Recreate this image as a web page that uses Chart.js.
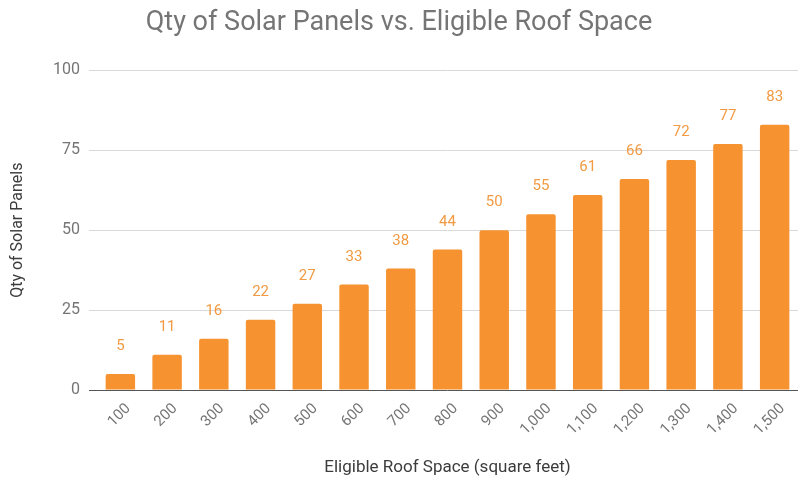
<!DOCTYPE html>
<html>
<head>
<meta charset="utf-8">
<script src="https://cdn.jsdelivr.net/npm/chart.js@4.4.0/dist/chart.umd.min.js"></script>
<style>
  html, body { margin: 0; padding: 0; background: #fff; }
  #wrap { width: 799px; height: 482px; }
</style>
</head>
<body>
<div id="wrap"><canvas id="solarChart"></canvas></div>
<script>
// Chart data
const roofSpace = ['100', '200', '300', '400', '500', '600', '700', '800', '900',
    '1,000', '1,100', '1,200', '1,300', '1,400', '1,500'];
const panelQty = [5, 11, 16, 22, 27, 33, 38, 44, 50, 55, 61, 66, 72, 77, 83];
const yTicks = [0, 25, 50, 75, 100];

const ORANGE = '#f6922f';
const GREY = '#757575';

// Draws value labels above each bar
const barLabels = {
    id: 'barLabels',
    afterDatasetsDraw(chart) {
        const ctx = chart.ctx;
        const meta = chart.getDatasetMeta(0);
        ctx.save();
        ctx.font = '15px Roboto';
        ctx.fillStyle = '#f29a42';
        ctx.textAlign = 'center';
        ctx.textBaseline = 'bottom';
        meta.data.forEach((bar, i) => {
            ctx.fillText(String(panelQty[i]), bar.x, bar.y - 20);
        });
        ctx.restore();
    }
};

new Chart(document.getElementById('solarChart'), {
    type: 'bar',
    data: {
        labels: roofSpace,
        datasets: [{
            label: 'Qty of Solar Panels',
            data: panelQty,
            backgroundColor: ORANGE,
            borderRadius: 2,
            categoryPercentage: 1,
            barPercentage: 0.63
        }]
    },
    options: {
        responsive: true,
        maintainAspectRatio: false,
        animation: false,
        layout: { padding: { right: 1 } },
        plugins: {
            legend: { display: false },
            tooltip: { enabled: false },
            title: {
                display: true,
                text: 'Qty of Solar Panels vs. Eligible Roof Space',
                color: GREY,
                font: { family: 'Roboto', size: 27, weight: 'normal' },
                padding: { top: 7, bottom: 31 }
            }
        },
        scales: {
            x: {
                grid: { display: false },
                border: { display: false },
                ticks: {
                    color: GREY,
                    font: { family: 'Roboto', size: 15 },
                    minRotation: 45,
                    maxRotation: 45,
                    padding: 2,
                    labelOffset: 8
                },
                title: {
                    display: true,
                    text: 'Eligible Roof Space (square feet)',
                    color: '#3c3c3c',
                    font: { family: 'Roboto', size: 17 },
                    padding: { top: 0, bottom: 4 }
                },
                afterFit(scale) { scale.height = 92; }
            },
            y: {
                min: 0,
                max: 100,
                afterBuildTicks(scale) {
                    scale.ticks = yTicks.map(v => ({ value: v }));
                },
                grid: {
                    color: ctx => (ctx.tick && ctx.tick.value === 0 ? '#555' : '#d9d9d9'),
                    tickLength: 8
                },
                border: { display: false },
                ticks: {
                    color: GREY,
                    font: { family: 'Roboto', size: 16 },
                    padding: 9
                },
                title: {
                    display: true,
                    text: 'Qty of Solar Panels',
                    color: '#3c3c3c',
                    font: { family: 'Roboto', size: 16 },
                    padding: { top: 8, bottom: 0 }
                },
                afterFit(scale) { scale.width = 97; }
            }
        }
    },
    plugins: [barLabels]
});
</script>
</body>
</html>
